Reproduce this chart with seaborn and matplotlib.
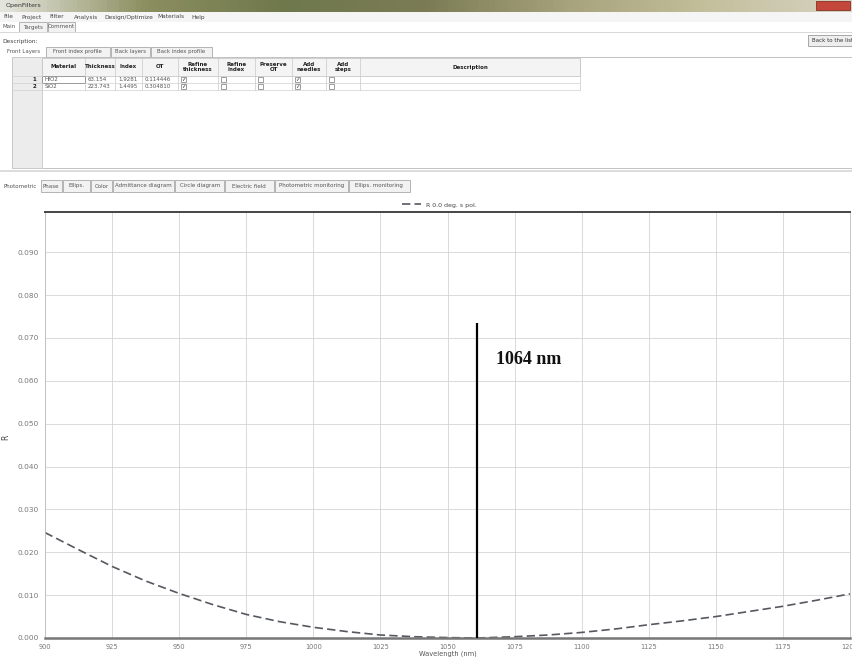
import numpy as np
import matplotlib
matplotlib.use('Agg')
import matplotlib.pyplot as plt
import seaborn as sns
import pandas as pd
from matplotlib.patches import Rectangle
from matplotlib.colors import LinearSegmentedColormap

# Curve (wavelength in nm, reflectance)
wavelength = [900, 912.5, 925, 937.5, 950, 962.5, 975, 987.5, 1000, 1012.5, 1025,
              1037.5, 1050, 1061, 1075, 1087.5, 1100, 1112.5, 1125, 1137.5, 1150,
              1162.5, 1175, 1187.5, 1200]
reflectance = [0.0246, 0.0206, 0.0167, 0.0133, 0.0104, 0.0078, 0.0055, 0.0038, 0.0025,
               0.0015, 0.0007, 0.0003, 0.0001, 0.0000, 0.0003, 0.0007, 0.0013, 0.0021,
               0.0031, 0.0040, 0.0050, 0.0062, 0.0074, 0.0088, 0.0103]
x_ticks = [900, 925, 950, 975, 1000, 1025, 1050, 1075, 1100, 1125, 1150, 1175, 1200]
y_ticks = [0.00, 0.01, 0.02, 0.03, 0.04, 0.05, 0.06, 0.07, 0.08, 0.09]
legend_label = 'R 0.0 deg. s pol.'

# hand drawn laser marker
marker_nm = 1061
marker_top = 0.0736
marker_text = '1064 nm'
marker_text_pos = (1068, 0.0650)

# window / UI text
menu_items = ['File', 'Project', 'Filter', 'Analysis', 'Design/Optimize', 'Materials', 'Help']
main_tabs = ['Main', 'Targets', 'Comment']
layer_tabs = ['Front Layers', 'Front index profile', 'Back layers', 'Back index profile']
chart_tabs = ['Photometric', 'Phase', 'Ellips.', 'Color', 'Admittance diagram', 'Circle diagram',
              'Electric field', 'Photometric monitoring', 'Ellips. monitoring']
table_columns = ['Material', 'Thickness', 'Index', 'OT', 'Refine\nthickness', 'Refine\nindex',
                 'Preserve\nOT', 'Add\nneedles', 'Add\nsteps', 'Description']
materials = ['HfO2', 'SiO2']
thickness = ['63.154', '223.743']
index_vals = ['1.9281', '1.4495']
ot_vals = ['0.114446', '0.304810']
refine_thickness = [True, True]
refine_index = [False, False]
preserve_ot = [False, False]
add_needles = [True, True]
add_steps = [False, False]

W, H = 853, 657
sns.set_theme(style='whitegrid')
plt.rcParams['font.family'] = ['DejaVu Sans']

fig = plt.figure(figsize=(W / 100, H / 100), dpi=100)
fig.patch.set_facecolor('white')


def fx(x):
    return x / W


def fy(y):
    return 1 - y / H


def ui_text(x, y, s, size=4.5, color='#555555', **kw):
    fig.text(fx(x), fy(y), s, fontsize=size, color=color, va='center', **kw)


def ui_rect(x0, y0, x1, y1, fc='none', ec='#b0b0b0', lw=0.6):
    fig.patches.append(Rectangle((fx(x0), fy(y1)), (x1 - x0) / W, (y1 - y0) / H,
                                 transform=fig.transFigure, facecolor=fc, edgecolor=ec,
                                 linewidth=lw))


def tab_row(x0, y0, y1, labels, selected=0, size=4.0):
    x = x0
    for i, lab in enumerate(labels):
        w = len(lab) * 3.05 + 6
        if i != selected:
            ui_rect(x, y0, x + w, y1, fc='#f2f2f2', ec='#a8a8a8')
        ui_text(x + w / 2, (y0 + y1) / 2, lab, size=size, ha='center')
        x += w + 1


# title bar
tb = fig.add_axes([0, fy(12), 1, 12 / H])
cmap = LinearSegmentedColormap.from_list('tb', ['#e4e4dc', '#8c8f60', '#6f784c', '#7b7c55',
                                                '#a7a37c', '#c4bf9c', '#d6d3c2'])
tb.imshow(np.linspace(0, 1, 200)[None, :], aspect='auto', cmap=cmap)
tb.axis('off')
ui_text(6, 6, 'OpenFilters', size=4.5, color='#333333')
ui_rect(816, 1, 850, 10, fc='#c4473b', ec='#8a2e25')

# menu bar + main tabs
ui_rect(0, 12, 853, 22, fc='#f5f5f5', ec='none')
mx = 3
for item in menu_items:
    ui_text(mx, 17, item, size=4.2, color='#444444')
    mx += len(item) * 3.1 + 6
tab_row(0, 22, 32, main_tabs)
ui_rect(0, 32, 853, 33, fc='#d8d8d8', ec='none')
ui_text(2, 41, 'Description:', size=4.2, color='#444444')
ui_rect(808, 35, 853, 46, fc='#eeeeee', ec='#999999')
ui_text(812, 40.5, 'Back to the list', size=4, color='#333333')
tab_row(2, 47, 57, layer_tabs, size=3.9)

# layer table
col_edges = [12, 42, 85, 115, 142, 178, 218, 255, 292, 326, 360, 580]
ui_rect(12, 57, 853, 168, fc='white', ec='#b8b8b8')
ui_rect(12, 57, 42, 168, fc='#ececec', ec='#c8c8c8')
ui_rect(42, 58, 580, 76, fc='#f4f4f4', ec='#c8c8c8')
for x in col_edges[1:]:
    fig.add_artist(plt.Line2D([fx(x), fx(x)], [fy(58), fy(90)], color='#c8c8c8', lw=0.5))
for y in (76, 83, 90):
    fig.add_artist(plt.Line2D([fx(12), fx(580)], [fy(y), fy(y)], color='#d0d0d0', lw=0.5))
for i, col in enumerate(table_columns):
    cx = (col_edges[i + 1] + col_edges[i + 2]) / 2
    ui_text(cx, 67, col, size=4, color='#222222', ha='center', fontweight='bold', linespacing=0.9)
flags = [refine_thickness, refine_index, preserve_ot, add_needles, add_steps]
for r in range(len(materials)):
    ry = 79.5 + r * 7
    ui_text(36, ry, str(r + 1), size=4, color='#222222', ha='right', fontweight='bold')
    for c, val in enumerate([materials[r], thickness[r], index_vals[r], ot_vals[r]]):
        ui_text(col_edges[c + 1] + 3, ry, val, size=4, color='#555555')
    for c, fl in enumerate(flags):
        bx = col_edges[c + 5] + 3
        ui_rect(bx, ry - 2.5, bx + 5, ry + 2.5, fc='white', ec='#777777', lw=0.5)
        if fl[r]:
            ui_text(bx + 2.5, ry, '\u2713', size=4, color='#333333', ha='center')
ui_rect(42, 76, 85, 83, ec='#222222', lw=0.7)
ui_rect(0, 170, 853, 172, fc='#dcdcdc', ec='none')

# chart tabs
tab_row(0, 180, 192, chart_tabs)

# the plot
ax = fig.add_axes([fx(45), fy(638), (850 - 45) / W, (638 - 212) / H])
df = pd.DataFrame({'wavelength': wavelength, 'R': reflectance})
sns.lineplot(data=df, x='wavelength', y='R', ax=ax, color='#55595f', lw=1.2,
             dashes=False, label=legend_label)
ax.lines[0].set_dashes([5, 2.5])
ax.vlines(marker_nm, 0, marker_top, color='black', lw=1.6, zorder=5)
ax.text(marker_text_pos[0], marker_text_pos[1], marker_text, fontsize=13, fontweight='bold',
        family='Liberation Serif', color='#111111', va='center')

ax.set_xlim(900, 1200)
ax.set_ylim(0, 0.0994)
ax.set_xticks(x_ticks)
ax.set_xticklabels([str(v) for v in x_ticks])
ax.set_yticks(y_ticks)
ax.set_yticklabels([f'{v:.3f}' for v in y_ticks])
ax.grid(True, color='#d4d4d4', lw=0.6)
ax.tick_params(axis='y', labelsize=5.3, colors='#777777', length=3, width=0.6, pad=1.5)
ax.tick_params(axis='x', labelsize=4.8, colors='#777777', length=3, width=0.6, pad=1.5)
ax.set_xlabel('Wavelength (nm)', fontsize=4.8, color='#555555', labelpad=0.5)
ax.set_ylabel('R', fontsize=5.5, color='#444444')
ax.yaxis.set_label_coords(-0.043, 0.47)
ax.set_facecolor('white')
for side in ['left', 'right']:
    ax.spines[side].set_color('#bdbdbd')
    ax.spines[side].set_linewidth(0.6)
ax.spines['top'].set_color('#444444')
ax.spines['top'].set_linewidth(1.4)
ax.spines['bottom'].set_color('#777777')
ax.spines['bottom'].set_linewidth(1.8)

ax.legend(loc='lower center', bbox_to_anchor=(0.49, 1.0), frameon=False, fontsize=4.5,
          handlelength=3, borderaxespad=0.3, labelcolor='#444444')

fig.savefig('out.png', dpi=100, facecolor='white')
